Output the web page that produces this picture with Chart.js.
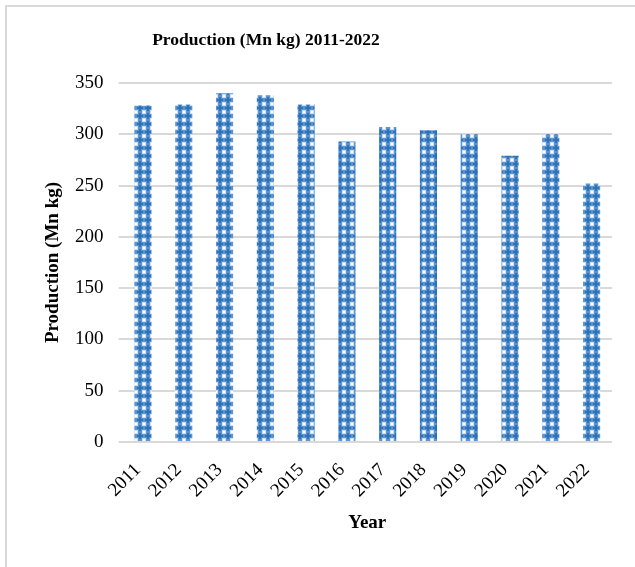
<!DOCTYPE html>
<html lang="en">
<head>
    <meta charset="UTF-8">
    <title>Production (Mn kg) 2011-2022</title>
    <script src="https://cdn.jsdelivr.net/npm/chart.js"></script>
    <style>
        body {
            margin: 0;
            background-color: white;
        }

        .chart-box {
            position: relative;
            width: 635px;
            height: 567px;
        }

        .chart-frame {
            position: absolute;
            left: 5px;
            top: 5px;
            right: 0;
            bottom: 0;
            border-left: 2px solid #d9d9d9;
            border-top: 2px solid #d9d9d9;
            pointer-events: none;
        }
    </style>
</head>
<body>
    <div class="chart-box">
        <canvas id="myChart" width="635" height="567"></canvas>
        <div class="chart-frame"></div>
    </div>

    <script>
        // yearly production figures
        const years = ['2011', '2012', '2013', '2014', '2015', '2016', '2017', '2018', '2019', '2020', '2021', '2022'];
        const production = [328, 329, 340, 338, 329, 293, 307, 304, 300, 279, 300, 252];
        const yTicks = [0, 50, 100, 150, 200, 250, 300, 350];

        const serif = "'Liberation Serif', 'Times New Roman', serif";

        // small repeating tile: dark blue crosses, white diamonds at the corners
        function makePattern() {
            const tile = document.createElement('canvas');
            tile.width = 8;
            tile.height = 8;
            const t = tile.getContext('2d');
            t.fillStyle = '#5b95d2';
            t.fillRect(0, 0, 8, 8);
            t.fillStyle = '#2e72b4';
            t.fillRect(3, 1, 2, 6);
            t.fillRect(1, 3, 6, 2);
            t.fillStyle = '#c9dcf0';
            [[1, 1], [6, 1], [1, 6], [6, 6], [0, 1], [1, 0], [7, 1], [6, 0], [0, 6], [1, 7], [7, 6], [6, 7]].forEach(p => {
                t.fillRect(p[0], p[1], 1, 1);
            });
            t.fillStyle = '#ffffff';
            [[0, 0], [7, 0], [0, 7], [7, 7]].forEach(p => {
                t.fillRect(p[0], p[1], 1, 1);
            });
            return t.createPattern(tile, 'repeat');
        }

        const ctx = document.getElementById('myChart').getContext('2d');

        // chart heading, drawn over the upper band left free by layout padding
        const headingPlugin = {
            id: 'heading',
            afterDraw(chart) {
                const c = chart.ctx;
                c.save();
                c.font = "bold 17.5px " + serif;
                c.fillStyle = '#000000';
                c.textAlign = 'center';
                c.textBaseline = 'middle';
                c.fillText('Production (Mn kg) 2011-2022', 266, 40);
                c.restore();
            }
        };

        new Chart(ctx, {
            type: 'bar',
            data: {
                labels: years,
                datasets: [{
                    label: 'Production (Mn kg)',
                    data: production,
                    backgroundColor: makePattern(),
                    borderWidth: 0,
                    categoryPercentage: 1,
                    barPercentage: 0.42
                }]
            },
            options: {
                responsive: false,
                animation: false,
                devicePixelRatio: 1,
                layout: {
                    padding: { top: 83, right: 23, bottom: 25, left: 0 }
                },
                plugins: {
                    legend: { display: false },
                    tooltip: { enabled: false }
                },
                scales: {
                    x: {
                        grid: { display: false },
                        border: { display: false },
                        ticks: {
                            color: '#000000',
                            font: { family: serif, size: 19 },
                            minRotation: 45,
                            maxRotation: 45,
                            padding: 9,
                            labelOffset: -5
                        },
                        title: {
                            display: true,
                            text: 'Year',
                            color: '#000000',
                            font: { family: serif, size: 19, weight: 'bold' },
                            padding: { top: 0, bottom: 8 }
                        },
                        afterFit(scale) {
                            scale.height = 100;
                        }
                    },
                    y: {
                        min: 0,
                        max: 350,
                        afterBuildTicks(scale) {
                            scale.ticks = yTicks.map(v => ({ value: v }));
                        },
                        grid: {
                            color: '#d9d9d9',
                            lineWidth: 2,
                            tickLength: 4
                        },
                        border: { display: false },
                        ticks: {
                            color: '#000000',
                            font: { family: serif, size: 19 },
                            padding: 15
                        },
                        title: {
                            display: true,
                            text: 'Production (Mn kg)',
                            color: '#000000',
                            font: { family: serif, size: 19, weight: 'bold' },
                            padding: { top: 42, bottom: 0 }
                        },
                        afterFit(scale) {
                            scale.width = 122.6;
                        }
                    }
                }
            },
            plugins: [headingPlugin]
        });
    </script>
</body>
</html>
